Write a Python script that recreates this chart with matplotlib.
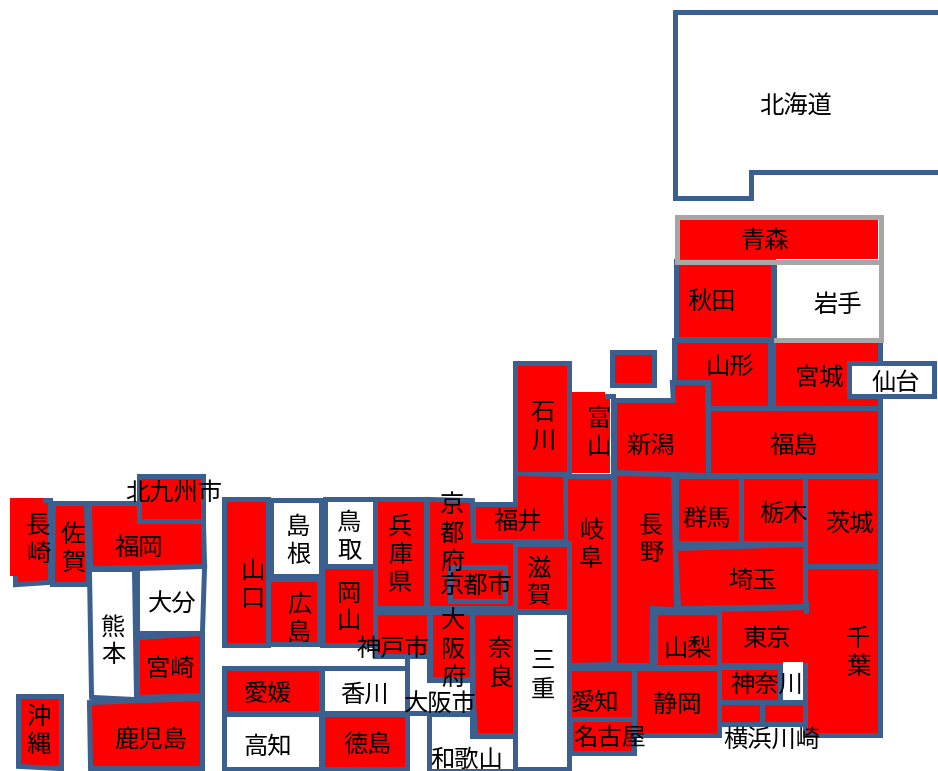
"""Japan tile map: prefectures and big cities, red or white."""

import matplotlib
matplotlib.use("Agg")
import matplotlib.pyplot as plt
from matplotlib.patches import Polygon

plt.rcParams["font.family"] = ["Noto Sans CJK JP", "DejaVu Sans"]

# ---------------- data ----------------

RED = ["青森", "秋田", "山形", "宮城", "福島", "新潟", "佐渡", "石川", "富山", "福井", "岐阜", "長野",
       "群馬", "栃木", "茨城", "埼玉", "千葉", "東京", "神奈川", "横浜", "川崎", "山梨", "静岡",
       "愛知", "名古屋", "滋賀", "奈良", "京都府", "京都市", "大阪府", "兵庫県", "神戸市", "岡山",
       "広島", "山口", "愛媛", "徳島", "福岡", "北九州市", "佐賀", "長崎", "宮崎", "鹿児島", "沖縄"]
WHITE = ["北海道", "岩手", "仙台", "三重", "和歌山", "大阪市", "鳥取", "島根", "香川", "高知",
         "熊本", "大分", "神奈川東"]

# labels that are not a tile name, or sit over two tiles
HIDDEN = ["佐渡", "横浜", "川崎", "神奈川東"]
EXTRA_LABELS = ["横浜川崎"]
VERTICAL = ["石川", "富山", "長野", "岐阜", "千葉", "三重", "滋賀", "奈良", "京都府", "大阪府",
            "兵庫県", "鳥取", "島根", "岡山", "広島", "山口", "長崎", "佐賀", "熊本", "沖縄"]

# ---------------- layout (pixels of the 938x771 picture) ----------------

def box(x0, y0, x1, y1):
    return [(x0, y0), (x1, y0), (x1, y1), (x0, y1)]

TILES = {
    "北海道": [(677.5, 15), (950, 15), (950, 170), (749, 170), (749, 196), (677.5, 196)],
    "青森": box(679, 219, 878, 259),
    "秋田": box(679, 264, 771, 337),
    "岩手": box(776, 264, 878, 337),
    "山形": [(677, 343), (768, 343), (768, 406), (711, 406), (711, 380), (677, 380)],
    "宮城": box(776, 343, 878, 406),
    "福島": box(711, 411, 878, 473),
    "新潟": [(617, 403), (676, 403), (675, 385), (705, 385), (706, 473), (617, 470)],
    "佐渡": box(615, 355, 652, 383),
    "石川": box(518, 366, 567, 472),
    "富山": [(572, 392), (605, 392), (605, 398), (610, 398), (610, 473), (572, 473)],
    "福井": [(518, 476), (563, 477), (564, 539), (476, 539), (476, 507), (518, 507)],
    "岐阜": [(568, 479), (611, 479), (611, 662), (572, 663), (572, 542), (568, 540)],
    "長野": [(617, 476), (671, 477), (674, 607), (650, 606), (649, 663), (617, 663)],
    "群馬": box(679, 479, 739, 541),
    "栃木": box(744, 479, 803, 541),
    "茨城": box(808, 479, 878, 564),
    "埼玉": [(678, 551), (803, 547), (803, 604), (681, 606)],
    "千葉": box(808, 569, 878, 733),
    "東京": [(722, 612), (808, 610), (808, 663), (722, 663)],
    "神奈川": box(722, 670, 778, 700),
    "神奈川東": box(783, 662, 803, 700),
    "横浜": box(722, 705, 760, 722),
    "川崎": box(765, 705, 803, 722),
    "山梨": box(658, 615, 717, 665),
    "静岡": box(637, 671, 717, 733),
    "愛知": box(572, 671, 632, 717),
    "名古屋": box(573, 722, 632, 751),
    "三重": box(518, 615, 567, 767),
    "滋賀": box(518, 547, 567, 609),
    "奈良": [(475, 615), (513, 615), (513, 733), (478, 733), (476, 703)],
    "京都府": [(430, 502), (470, 503), (471, 543), (513, 543), (513, 606), (430, 606)],
    "大阪府": box(433, 615, 470, 677),
    "大阪市": [(410, 659), (427, 659), (427, 683), (470, 683), (470, 711), (410, 711)],
    "和歌山": [(432, 717), (470, 717), (470, 739), (513, 739), (513, 769), (432, 769)],
    "神戸市": box(378, 615, 427, 654),
    "兵庫県": box(378, 502, 424, 606),
    "鳥取": box(328, 502, 373, 564),
    "岡山": box(325, 569, 373, 643),
    "島根": box(274, 503, 319, 574),
    "広島": box(271, 582, 317, 642),
    "山口": box(227, 502, 266, 643),
    "愛媛": box(227, 671, 319, 711),
    "香川": box(325, 671, 405, 711),
    "高知": box(227, 717, 319, 767),
    "徳島": box(325, 717, 405, 767),
    "福岡": [(92, 506), (137, 506), (137, 524), (201, 524), (202, 564), (93, 566)],
    "北九州市": box(142, 479, 201, 519),
    "佐賀": [(56, 506), (84, 506), (86, 582), (55, 582)],
    "長崎": [(18, 503), (48, 503), (48, 580), (18, 582)],
    "熊本": [(92, 572), (132, 572), (134, 697), (94, 695)],
    "大分": [(140, 571), (202, 569), (200, 631), (140, 631)],
    "宮崎": [(140, 640), (200, 636), (200, 693), (140, 695)],
    "鹿児島": [(92, 705), (200, 701), (200, 766), (93, 766)],
    "沖縄": [(21, 699), (59, 699), (59, 766), (21, 764)],
}

LABEL_POS = {
    "北海道": (796, 105), "青森": (765, 239), "秋田": (712, 300), "岩手": (838, 303),
    "山形": (730, 365), "宮城": (819, 376), "仙台": (896, 381), "福島": (794, 444),
    "新潟": (651, 444), "石川": (543, 425), "富山": (599, 431), "長野": (651, 538),
    "岐阜": (591, 544), "福井": (518, 520), "群馬": (707, 517), "栃木": (783, 512),
    "茨城": (849, 522), "埼玉": (752, 580), "山梨": (688, 648), "東京": (767, 638),
    "千葉": (858, 652), "神奈川": (767, 683), "静岡": (677, 703), "愛知": (595, 702),
    "名古屋": (610, 736), "横浜川崎": (772, 738), "三重": (543, 674), "滋賀": (538, 581),
    "奈良": (500, 662), "京都市": (476, 584), "京都府": (452, 532), "大阪府": (453, 648),
    "大阪市": (440, 702), "和歌山": (467, 758), "神戸市": (393, 647), "兵庫県": (400, 553),
    "鳥取": (349, 535), "島根": (298, 539), "岡山": (349, 606), "広島": (299, 617),
    "山口": (253, 583), "愛媛": (268, 693), "香川": (364, 693), "高知": (268, 745),
    "徳島": (368, 743), "長崎": (38, 538), "佐賀": (73, 548), "福岡": (139, 546),
    "北九州市": (174, 491), "大分": (172, 603), "熊本": (113, 640), "宮崎": (170, 667),
    "鹿児島": (151, 738), "沖縄": (38, 730),
}

KYOTO_CITY = box(452.5, 569.5, 502.5, 598.5)
SENDAI = box(852, 366, 932, 394)
NAGASAKI_PATCH = box(10, 498, 43, 576)
OVERLAYS = ["仙台", "京都市"]
NO_STROKE = ["富山", "青森", "岩手"]

BLUE = "#3b5f8e"
GRAY = "#a6a6a6"
FILL_RED = "#ff0000"
STROKE_PX = 5
FONT_PT = 17.5
TEXT_DY = 1.5


def px(n):
    return n * 72 / 100


def outline(ax, verts, color=BLUE, z=1):
    # stroke is centred on the fill edge, so double it: the fill pass hides the inner half.
    # filled too, an unfilled path gets cut at the canvas and loses its closing join
    ax.add_patch(Polygon(verts, closed=True, facecolor=color, edgecolor=color,
                         lw=px(STROKE_PX * 2), joinstyle="miter", zorder=z))


def fill(ax, verts, color, z=2):
    ax.add_patch(Polygon(verts, closed=True, facecolor=color, edgecolor="none", zorder=z))


def seg(ax, pts, color=BLUE, z=3):
    xs, ys = zip(*pts)
    ax.plot(xs, ys, color=color, lw=px(STROKE_PX), solid_capstyle="projecting",
            solid_joinstyle="miter", zorder=z)


# ---------------- plot ----------------

fig = plt.figure(figsize=(9.38, 7.71), dpi=100)
ax = fig.add_axes([0, 0, 1, 1])
ax.set_xlim(0, 938)
ax.set_ylim(771, 0)
ax.axis("off")

TILES["京都市"] = KYOTO_CITY
TILES["仙台"] = SENDAI

for name, verts in TILES.items():
    if name not in NO_STROKE + OVERLAYS:
        outline(ax, verts)
for name, verts in TILES.items():
    if name not in OVERLAYS:
        fill(ax, verts, FILL_RED if name in RED else "white")

# overlaps and odd edges of the source drawing
fill(ax, NAGASAKI_PATCH, FILL_RED, z=3)
seg(ax, [(607, 395.5), (613, 395.5), (613, 476)])
seg(ax, [(805.5, 604), (805.5, 611)])
for name in OVERLAYS:
    outline(ax, TILES[name], z=3)
    fill(ax, TILES[name], FILL_RED if name in RED else "white", z=4)

seg(ax, [(676.5, 216.5), (880.5, 216.5), (880.5, 261.5), (676.5, 261.5), (676.5, 216.5)], GRAY, z=5)
seg(ax, [(880.5, 261.5), (880.5, 340), (776, 340)], GRAY, z=5)
seg(ax, [(773.5, 264), (773.5, 340)], BLUE, z=3)

labels = [n for n in TILES if n not in HIDDEN] + EXTRA_LABELS
for name in labels:
    x, y = LABEL_POS[name]
    txt = "\n".join(name) if name in VERTICAL else name
    ax.text(x, y + TEXT_DY, txt, fontsize=FONT_PT, color="black", ha="center", va="center",
            linespacing=1.1, zorder=10)

fig.savefig("out.png", dpi=100)
